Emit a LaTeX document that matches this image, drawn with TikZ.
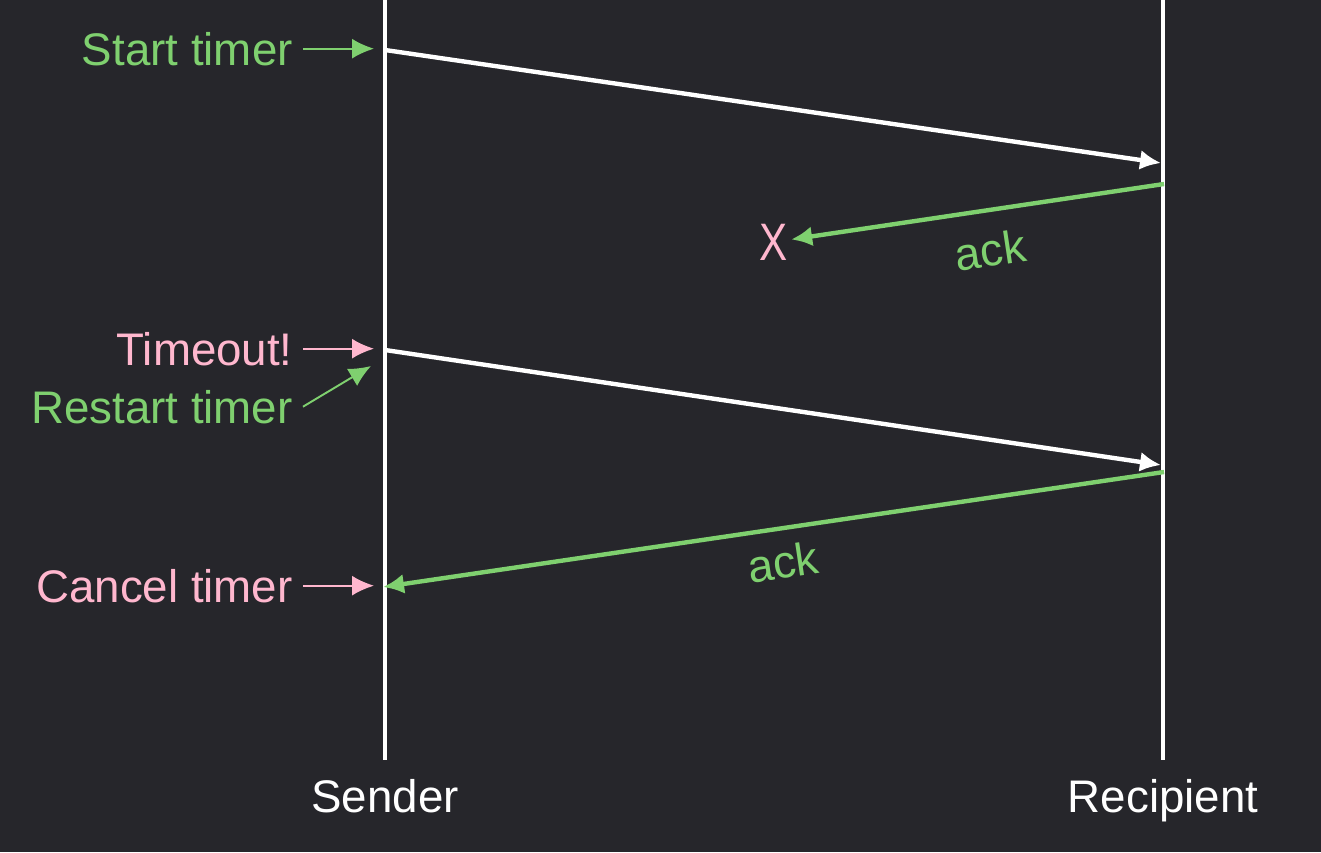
\documentclass[tikz,border=0pt]{standalone}
\usepackage{fontspec}
\setmainfont{Liberation Sans}
\usetikzlibrary{arrows.meta}
\definecolor{bgdark}{HTML}{26262B}
\definecolor{ackgreen}{HTML}{7FD06F}
\definecolor{alertpink}{HTML}{FFB7CE}

\begin{document}
\begin{tikzpicture}[x=0.02cm, y=-0.02cm, >={Latex[length=0.42cm, width=0.4cm]}, font=\fontsize{26}{30}\selectfont]
        \tikzstyle{lifeline} = [draw=white, line width=2.5pt]
        \tikzstyle{msg} = [draw=white, line width=2.5pt, ->]
        \tikzstyle{ack} = [draw=ackgreen, line width=2.5pt, ->]
        \tikzstyle{note} = [anchor=base east, inner xsep=0.2cm, inner ysep=0pt]
        \tikzstyle{pointer} = [line width=1.1pt, -{Latex[length=0.44cm, width=0.4cm]}]

        % Fond
        \fill[bgdark] (0,0) rectangle (1321,852);
        \useasboundingbox (0,0) rectangle (1321,852);

        % Lignes de vie
        \coordinate (s_top) at (385,0);
        \coordinate (s_bot) at (385,760);
        \coordinate (r_top) at (1163,0);
        \coordinate (r_bot) at (1163,760);
        \node[text=white, anchor=base] (sender) at (385,812) {Sender};
        \node[text=white, anchor=base] (recipient) at (1163,812) {Recipient};
        \draw[lifeline] (s_top) -- (s_bot);
        \draw[lifeline] (r_top) -- (r_bot);

        % Points sur les lignes de vie
        \coordinate (s_start) at (385,50);
        \coordinate (r_msg1) at (1161,163);
        \coordinate (r_ack1) at (1164,184);
        \coordinate (s_timeout) at (385,350);
        \coordinate (r_msg2) at (1161,465);
        \coordinate (r_ack2) at (1164,472);
        \coordinate (s_cancel) at (383,587);
        \coordinate (p_start) at (374,50);
        \coordinate (p_timeout) at (374,350);
        \coordinate (p_restart) at (371,366);
        \coordinate (p_cancel) at (374,587);

        % Annotations
        \node[note, text=ackgreen] (start) at (303,65) {Start timer};
        \node[note, text=alertpink] (timeout) at (303,365) {Timeout!};
        \node[note, text=ackgreen] (restart) at (303,423) {Restart timer};
        \node[note, text=alertpink] (cancel) at (303,602) {Cancel timer};
        \node[text=alertpink, inner sep=2pt, xscale=0.8, font=\fontsize{30}{32}\selectfont] (lost) at (774,242) {X};
        \node[text=ackgreen, rotate=8.6] (ack1) at (990,250) {ack};
        \node[text=ackgreen, rotate=8.5] (ack2) at (783,562) {ack};

        % Messages
        \draw[msg] (s_start) -- (r_msg1);
        \draw[ack] (r_ack1) -- (lost);
        \draw[msg] (s_timeout) -- (r_msg2);
        \draw[ack] (r_ack2) -- (s_cancel);

        % Flèches des annotations
        \draw[pointer, ackgreen] (start.east) -- (start.east -| p_start);
        \draw[pointer, alertpink] (timeout.east) -- (timeout.east -| p_timeout);
        \draw[pointer, ackgreen] (restart.east) -- (p_restart);
        \draw[pointer, alertpink] (cancel.east) -- (cancel.east -| p_cancel);
    \end{tikzpicture}
\end{document}
